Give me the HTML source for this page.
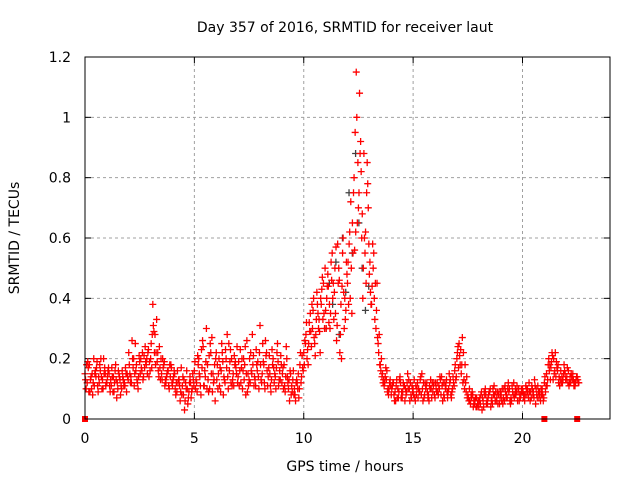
<!DOCTYPE html>
<html><head><meta charset="utf-8"><style>
body{margin:0;background:#fff;}
svg{display:block;font-family:"DejaVu Sans","Liberation Sans",sans-serif;}
</style></head><body>
<svg id="c" width="640" height="480">
<text x="345" y="32" font-size="14" text-anchor="middle">Day 357 of 2016, SRMTID for receiver laut</text>
<text x="0" y="0" font-size="14" text-anchor="middle" transform="translate(19,238) rotate(-90)">SRMTID / TECUs</text>
<text x="345" y="471" font-size="14" text-anchor="middle">GPS time / hours</text>
<g id="grid"></g><g id="ticks"></g><g id="marks"></g>
<rect x="85" y="57" width="525" height="362" fill="none" stroke="#000" stroke-width="1"/>
</svg>
<script>
const xTicks=[0,5,10,15,20];
const yTicks=[0,0.2,0.4,0.6,0.8,1,1.2];
const yTickLabels=["0","0.2","0.4","0.6","0.8","1","1.2"];
const seriesA=[.15,.12,.18,.10,.20,.14,.09,.16,.13,.17,
.12,.15,.11,.14,.18,.10,.13,.16,.12,.09,
.22,.14,.17,.25,.12,.19,.16,.21,.18,.23,
.20,.38,.28,.19,.24,.15,.18,.12,.16,.14,
.11,.15,.09,.13,.17,.08,.12,.05,.14,.10,
.16,.12,.20,.08,.24,.14,.18,.10,.27,.13,
.22,.15,.09,.19,.12,.28,.16,.20,.11,.17,
.14,.23,.10,.18,.26,.13,.16,.21,.11,.19,
.31,.15,.12,.22,.17,.09,.20,.14,.25,.16,
.12,.18,.24,.10,.15,.13,.08,.12,.10,.14,
.22,.28,.18,.35,.30,.25,.42,.33,.38,.45,
.36,.48,.30,.55,.42,.26,.50,.38,.60,.33,
.45,.62,.35,.80,1.15,.70,.92,.40,.55,.85,
.48,.38,.55,.30,.25,.18,.15,.12,.16,.10,
.08,.12,.06,.10,.14,.07,.11,.09,.13,.08,
.10,.06,.12,.09,.15,.07,.11,.08,.13,.09,
.07,.12,.10,.14,.08,.11,.09,.13,.10,.16,
.20,.25,.15,.22,.12,.08,.06,.09,.05,.07,
.04,.08,.06,.10,.05,.09,.07,.11,.06,.08,
.09,.05,.11,.07,.10,.06,.12,.08,.09,.07,
.10,.06,.08,.12,.07,.09,.05,.11,.08,.10,
.12,.15,.20,.17,.13,.22,.16,.11,.14,.18,
.13,.16,.12,.15,.11,.14];
const seriesB=[.10,.17,.13,.08,.15,.19,.12,.14,.20,.11,
.16,.09,.14,.12,.07,.15,.11,.13,.17,.14,
.15,.26,.11,.18,.14,.20,.13,.24,.15,.19,
.17,.29,.22,.16,.13,.20,.11,.15,.10,.17,
.14,.08,.12,.06,.11,.03,.16,.09,.07,.13,
.10,.21,.14,.17,.11,.30,.09,.22,.15,.06,
.18,.11,.25,.14,.20,.10,.23,.13,.18,.24,
.11,.17,.20,.08,.15,.12,.28,.14,.18,.10,
.13,.19,.26,.11,.15,.23,.12,.17,.11,.21,
.17,.09,.14,.06,.11,.08,.12,.15,.22,.17,
.26,.20,.32,.24,.40,.28,.35,.22,.47,.30,
.40,.32,.52,.45,.35,.58,.22,.44,.30,.52,
.38,.72,.55,.95,.65,1.08,.60,.88,.45,.70,
.42,.58,.33,.45,.28,.20,.13,.17,.10,.13,
.11,.06,.13,.09,.07,.12,.10,.15,.06,.11,
.13,.08,.10,.14,.06,.12,.09,.11,.07,.12,
.10,.08,.13,.06,.12,.09,.15,.07,.12,.13,
.24,.18,.27,.10,.14,.06,.08,.04,.07,.05,
.07,.03,.09,.05,.08,.04,.10,.06,.09,.05,
.06,.10,.07,.12,.05,.09,.08,.11,.06,.10,
.07,.11,.09,.06,.10,.13,.08,.07,.10,.06,
.09,.13,.18,.22,.15,.19,.12,.16,.13,.15,
.17,.12,.14,.11,.13,.12];
const seriesC=[.13,.19,.09,.15,.11,.17,.14,.20,.10,.15,
.14,.11,.17,.09,.13,.16,.08,.14,.11,.15,
.18,.12,.20,.16,.10,.15,.22,.17,.20,.14,
.25,.31,.18,.22,.17,.13,.19,.14,.11,.18,
.13,.10,.16,.11,.08,.13,.10,.07,.12,.15,
.19,.09,.15,.23,.11,.19,.13,.25,.09,.18,
.13,.20,.16,.08,.23,.14,.19,.11,.21,.15,
.19,.12,.16,.24,.09,.20,.15,.11,.23,.14,
.18,.25,.10,.16,.21,.13,.17,.10,.19,.13,
.15,.11,.20,.13,.08,.16,.06,.10,.18,.21,
.18,.32,.25,.29,.36,.21,.38,.29,.43,.35,
.30,.44,.35,.40,.50,.31,.46,.20,.42,.36,
.52,.40,.65,.56,1.00,.75,.82,.50,.62,.78,
.52,.44,.40,.36,.22,.16,.12,.14,.09,.12,
.10,.08,.11,.07,.12,.09,.06,.12,.10,.07,
.08,.11,.07,.13,.10,.08,.12,.06,.10,.11,
.12,.09,.14,.11,.07,.13,.10,.08,.14,.18,
.22,.21,.18,.13,.09,.07,.05,.08,.06,.04,
.06,.09,.04,.08,.07,.10,.05,.08,.07,.09,
.08,.07,.09,.10,.06,.11,.07,.09,.10,.08,
.09,.08,.10,.09,.11,.07,.10,.09,.06,.08,
.14,.11,.16,.19,.20,.14,.18,.13,.12,.16,
.14,.11,.15,.13,.12,.13];
const seriesD=[.18,.09,.14,.12,.16,.11,.18,.10,.15,.12,
.17,.13,.09,.16,.12,.14,.10,.11,.15,.13,
.12,.20,.15,.13,.21,.17,.14,.19,.22,.16,
.28,.22,.33,.14,.20,.17,.13,.16,.18,.12,
.16,.12,.13,.09,.14,.06,.10,.12,.09,.11,
.13,.18,.11,.26,.16,.10,.21,.15,.12,.20,
.10,.17,.22,.13,.17,.25,.12,.15,.19,.12,
.16,.20,.13,.15,.11,.22,.18,.13,.16,.22,
.12,.18,.21,.14,.11,.18,.15,.22,.13,.18,
.10,.14,.12,.16,.09,.10,.13,.07,.12,.16,
.25,.23,.29,.38,.27,.33,.30,.40,.33,.50,
.44,.38,.46,.33,.57,.45,.28,.55,.40,.48,
.58,.50,.75,.62,.85,.88,.68,.60,.75,.58,
.38,.50,.45,.27,.18,.14,.11,.13,.08,.11,
.12,.09,.07,.13,.09,.11,.08,.10,.12,.09,
.07,.10,.09,.08,.12,.10,.07,.10,.12,.08,
.09,.11,.08,.12,.10,.07,.12,.09,.11,.14,
.17,.23,.12,.18,.07,.10,.07,.06,.04,.06,
.05,.07,.08,.06,.09,.06,.08,.09,.05,.07,
.10,.06,.08,.09,.07,.08,.10,.06,.08,.09,
.08,.10,.07,.09,.08,.11,.07,.09,.08,.07,
.11,.18,.13,.21,.16,.17,.14,.12,.15,.13,
.12,.14,.13,.12,.14,.12];
const graySeries=[.30,.45,.38,.52,.28,.60,.42,.75,.55,.88,.65,.50,.36,.44];
const grayStart=11.0;
const squaresX=[0,21,22.5];
const squaresY=[0,0,0];
const x0=85,x1=610,y0=419,y1=57,xMax=24,yMax=1.2;
const X=v=>x0+(x1-x0)*v/xMax, Y=v=>y0-(y0-y1)*v/yMax;
const ns="http://www.w3.org/2000/svg";
function mk(t,a,p){const e=document.createElementNS(ns,t);for(const k in a)e.setAttribute(k,a[k]);p.appendChild(e);return e;}
const grid=document.getElementById('grid'),ticks=document.getElementById('ticks'),marks=document.getElementById('marks');
xTicks.forEach(t=>{
 if(t>0){const l=mk('line',{x1:X(t),x2:X(t),y1:y1,y2:y0,stroke:'#a0a0a0','stroke-dasharray':'3,3'},grid);
 
 }
 mk('line',{x1:X(t),x2:X(t),y1:y0,y2:y0-6,stroke:'#000'},ticks);
 mk('line',{x1:X(t),x2:X(t),y1:y1,y2:y1+6,stroke:'#000'},ticks);
 const tx=mk('text',{x:X(t),y:y0+24,'font-size':14,'text-anchor':'middle'},ticks);tx.textContent=t;
 
 
});
yTicks.forEach((t,i)=>{
 if(t>0&&t<yMax){const l=mk('line',{x1:x0,x2:x1,y1:Y(t),y2:Y(t),stroke:'#a0a0a0','stroke-dasharray':'3,3'},grid);
 
 }
 mk('line',{x1:x0,x2:x0+6,y1:Y(t),y2:Y(t),stroke:'#000'},ticks);
 mk('line',{x1:x1,x2:x1-6,y1:Y(t),y2:Y(t),stroke:'#000'},ticks);
 const tx=mk('text',{x:x0-14,y:Y(t)+5,'font-size':14,'text-anchor':'end'},ticks);tx.textContent=yTickLabels[i];
 
 
});
function plus(h,v,col,name){
 const cx=X(h),cy=Y(v);
 const p=mk('path',{d:`M${cx-3.5} ${cy}h7M${cx} ${cy-3.5}v7`,stroke:col,'stroke-width':1.3,fill:'none'},marks);
 
 
}
graySeries.forEach((v,i)=>plus(grayStart+i*0.15+0.02,v,'#404040','gray-point'));
seriesA.forEach((v,i)=>plus(i*0.1,v,'#ff0000','red-point'));
seriesB.forEach((v,i)=>plus(i*0.1+0.05,v,'#ff0000','red-point'));
seriesC.forEach((v,i)=>plus(i*0.1+0.025,v,'#ff0000','red-point'));
seriesD.forEach((v,i)=>plus(i*0.1+0.075,v,'#ff0000','red-point'));
squaresX.forEach((h,i)=>{
 const r=mk('rect',{x:X(h)-3,y:Y(squaresY[i])-3,width:6,height:6,fill:'#ff0000'},marks);
 
 
});
</script>
</body></html>
